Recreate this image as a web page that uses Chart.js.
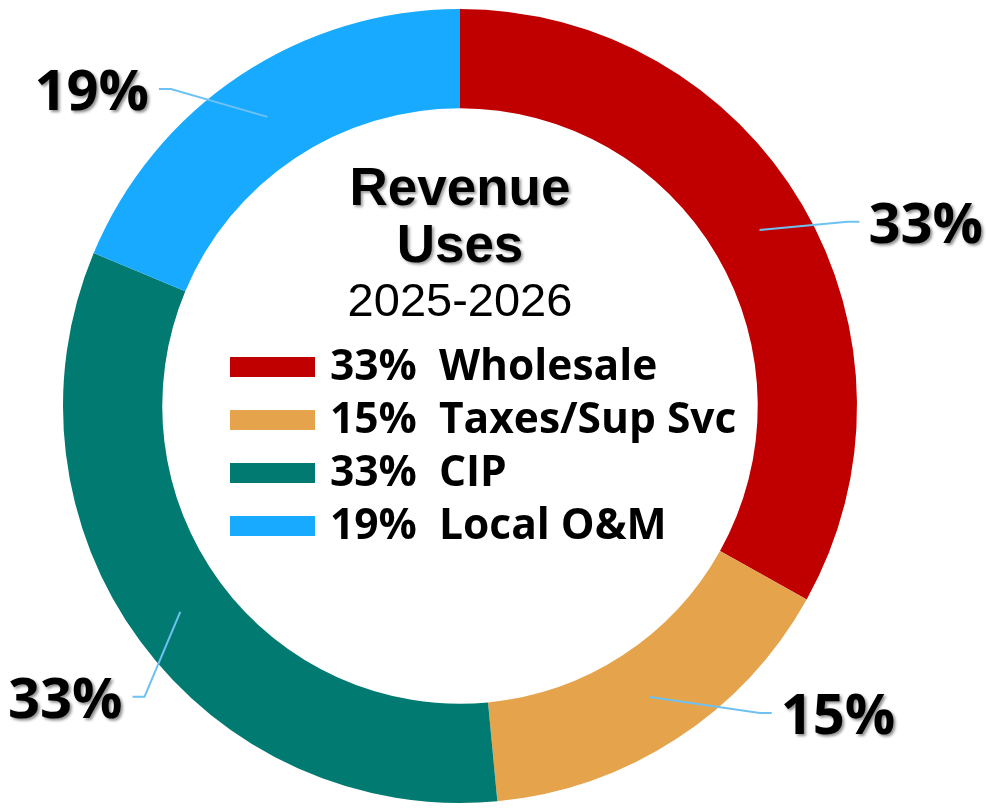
<!DOCTYPE html>
<html>
<head>
<meta charset="utf-8">
<script src="https://cdn.jsdelivr.net/npm/chart.js@4"></script>
<style>
  body { margin: 0; background: #fff; }
  #wrap { position: relative; width: 987px; height: 809px; }
  #title { position: absolute; left: 260px; width: 400px; top: 158px; text-align: center;
           font-family: "Liberation Sans", Arial, sans-serif; color: #000; }
  #title .big { font-weight: bold; font-size: 53px; line-height: 57px; text-shadow: 2px 2px 3px rgba(0,0,0,0.4); }
  #title .sub { font-size: 47px; line-height: 55px; }
  #legend { position: absolute; left: 230px; top: 338px; font-family: "Open Sans", sans-serif;
            font-weight: bold; font-size: 42.5px; color: #000; }
  .row { position: relative; height: 53px; line-height: 53px; white-space: pre; }
  .box { position: absolute; left: 0; top: 19px; width: 85px; height: 20px; }
  .txt { position: absolute; left: 100px; top: -1px; }
</style>
</head>
<body>
<div id="wrap">
  <canvas id="donut" width="987" height="809"></canvas>
  <div id="title"></div>
  <div id="legend"></div>
</div>
<script>
// data
let categories = ["Wholesale", "Taxes/Sup Svc", "CIP", "Local O&M"];
let values = [33.1, 15.4, 32.8, 18.7];
let colors = ["#C00000", "#E5A34C", "#017A72", "#17AAFE"];
let titleLines = ["Revenue", "Uses"];
let subTitle = "2025-2026";

let total = values.reduce((a, b) => a + b, 0);
let pctText = values.map(v => Math.round(v / total * 100) + "%");

// title + legend in the hole
document.getElementById("title").innerHTML =
    titleLines.map(t => `<div class="big">${t}</div>`).join("") +
    `<div class="sub">${subTitle}</div>`;

let legend = document.getElementById("legend");
categories.forEach((c, i) => {
    let row = document.createElement("div");
    row.className = "row";
    row.innerHTML = `<span class="box" style="background:${colors[i]}"></span><span class="txt">${pctText[i]}  ${c.replace("&", "&amp;")}</span>`;
    legend.appendChild(row);
});

// leader lines + outside percent labels
const outsideLabels = {
    id: "outsideLabels",
    afterDatasetsDraw(chart, args, opts) {
        let ctx = chart.ctx;
        let arcs = chart.getDatasetMeta(0).data;
        arcs.forEach((arc, i) => {
            let mid = (arc.startAngle + arc.endAngle) / 2;
            let rMid = (arc.innerRadius + arc.outerRadius) / 2;
            let a2 = mid + opts.angleShift[i] * Math.PI / 180;
            let x1 = arc.x + rMid * Math.cos(mid);
            let y1 = arc.y + rMid * Math.sin(mid);
            let x2 = arc.x + opts.radius * Math.cos(a2);
            let y2 = arc.y + opts.radius * Math.sin(a2);
            let right = x2 > arc.x;
            let x3 = x2 + (right ? 12 : -12);

            ctx.save();
            ctx.strokeStyle = "#6EC1F0";
            ctx.lineWidth = 2;
            ctx.beginPath();
            ctx.moveTo(x1, y1);
            ctx.lineTo(x2, y2);
            ctx.lineTo(x3, y2);
            ctx.stroke();

            ctx.font = "bold 56px 'Open Sans'";
            ctx.fillStyle = "#000";
            ctx.textAlign = right ? "left" : "right";
            ctx.textBaseline = "alphabetic";
            ctx.shadowColor = "rgba(0,0,0,0.45)";
            ctx.shadowOffsetX = 2;
            ctx.shadowOffsetY = 2;
            ctx.shadowBlur = 3;
            ctx.fillText(pctText[i], x3 + (right ? 9 : -10), y2 + 21);
            ctx.restore();
        });
    }
};

new Chart(document.getElementById("donut"), {
    type: "doughnut",
    data: {
        labels: categories,
        datasets: [{
            data: values,
            backgroundColor: colors,
            borderWidth: 0
        }]
    },
    options: {
        responsive: false,
        animation: false,
        cutout: "75%",
        layout: { padding: { top: 9, bottom: 6, left: 0, right: 67 } },
        plugins: {
            legend: { display: false },
            tooltip: { enabled: false },
            outsideLabels: { radius: 429, angleShift: [5.0, -11.2, -6.3, -8.7] }
        }
    },
    plugins: [outsideLabels]
});
</script>
</body>
</html>
